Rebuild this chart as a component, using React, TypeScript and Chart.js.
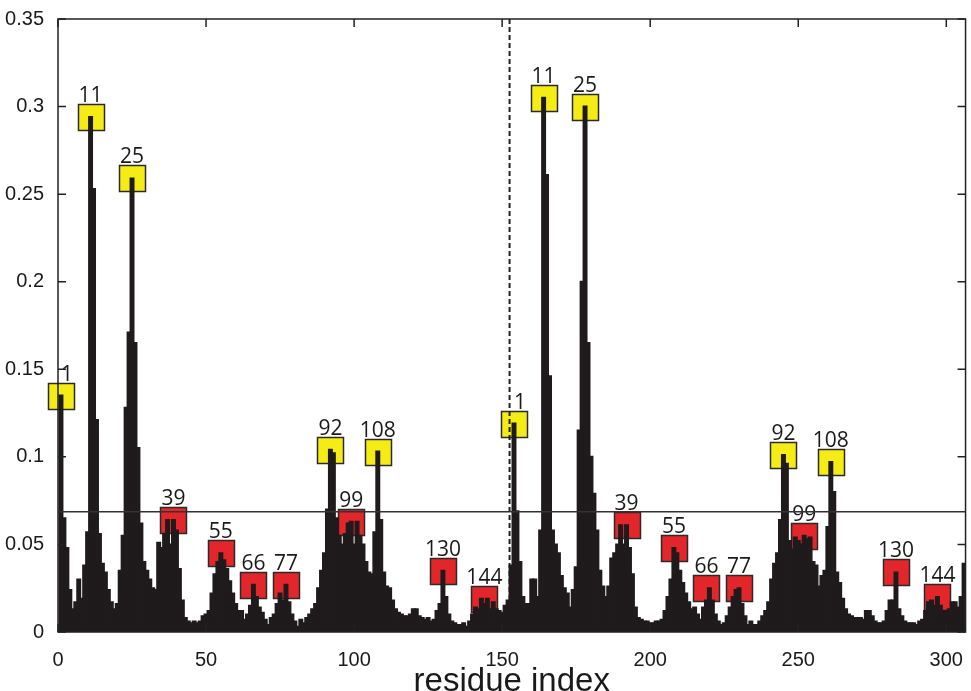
import React, { useEffect, useRef } from "react";
import { Chart, registerables } from "chart.js";

Chart.register(...registerables);

// residue 1..153 (first copy)
const chainA = [
  0.135, 0.065, 0.048, 0.024, 0.013, 0.017, 0.030, 0.019, 0.038, 0.057,
  0.294, 0.253, 0.121, 0.056, 0.039, 0.034, 0.024, 0.017, 0.013, 0.016,
  0.035, 0.055, 0.128, 0.171, 0.259, 0.165, 0.105, 0.062, 0.040, 0.035,
  0.030, 0.025, 0.024, 0.051, 0.048, 0.056, 0.064, 0.050, 0.064, 0.058,
  0.036, 0.018, 0.008, 0.006, 0.005, 0.006, 0.005, 0.006, 0.009, 0.010,
  0.012, 0.022, 0.033, 0.040, 0.045, 0.041, 0.036, 0.029, 0.022, 0.016,
  0.012, 0.012, 0.007, 0.010, 0.015, 0.027, 0.020, 0.014, 0.011, 0.007,
  0.004, 0.008, 0.010, 0.016, 0.022, 0.018, 0.027, 0.017, 0.010, 0.006,
  0.003, 0.007, 0.005, 0.008, 0.010, 0.013, 0.016, 0.025, 0.035, 0.045,
  0.070, 0.104, 0.102, 0.065, 0.055, 0.050, 0.056, 0.062, 0.063, 0.050,
  0.063, 0.055, 0.050, 0.040, 0.034, 0.033, 0.057, 0.103, 0.064, 0.034,
  0.026, 0.025, 0.018, 0.013, 0.011, 0.010, 0.009, 0.009, 0.010, 0.013,
  0.013, 0.009, 0.008, 0.007, 0.008, 0.006, 0.007, 0.012, 0.016, 0.035,
  0.020, 0.010, 0.006, 0.005, 0.004, 0.004, 0.005, 0.003, 0.006, 0.010,
  0.014, 0.013, 0.019, 0.016, 0.019, 0.013, 0.017, 0.013, 0.012, 0.011,
  0.015, 0.018, 0.038,
];

// residue 154..306 (second copy)
const chainB = [
  0.119, 0.069, 0.040, 0.020, 0.016, 0.016, 0.030, 0.030, 0.020, 0.058,
  0.305, 0.261, 0.146, 0.058, 0.050, 0.045, 0.032, 0.025, 0.022, 0.014,
  0.024, 0.037, 0.115, 0.200, 0.300, 0.165, 0.100, 0.079, 0.058, 0.035,
  0.026, 0.020, 0.026, 0.042, 0.045, 0.050, 0.061, 0.050, 0.061, 0.048,
  0.033, 0.014, 0.008, 0.007, 0.006, 0.006, 0.005, 0.005, 0.006, 0.006,
  0.007, 0.012, 0.020, 0.030, 0.048, 0.045, 0.035, 0.028, 0.022, 0.017,
  0.013, 0.014, 0.010, 0.007, 0.014, 0.018, 0.025, 0.018, 0.010, 0.006,
  0.004, 0.005, 0.009, 0.014, 0.020, 0.024, 0.025, 0.016, 0.009, 0.004,
  0.006, 0.004, 0.004, 0.006, 0.009, 0.012, 0.017, 0.030, 0.039, 0.045,
  0.064, 0.101, 0.096, 0.052, 0.047, 0.054, 0.052, 0.050, 0.055, 0.053,
  0.054, 0.040, 0.038, 0.026, 0.032, 0.035, 0.060, 0.097, 0.080, 0.034,
  0.028, 0.019, 0.013, 0.010, 0.009, 0.008, 0.008, 0.008, 0.007, 0.012,
  0.012, 0.009, 0.006, 0.005, 0.005, 0.006, 0.012, 0.018, 0.018, 0.034,
  0.013, 0.009, 0.006, 0.005, 0.005, 0.005, 0.004, 0.006, 0.007, 0.012,
  0.017, 0.018, 0.015, 0.020, 0.015, 0.012, 0.012, 0.013, 0.017, 0.017,
  0.014, 0.020, 0.039,
];

const values = [...chainA, ...chainB];
const residues = values.map((_, i) => i + 1);
const chainLength = chainA.length;

const labelResidues = [1, 11, 25, 39, 55, 66, 77, 92, 99, 108, 130, 144];
const labelKinds = ["hi", "hi", "hi", "lo", "lo", "lo", "lo", "hi", "lo", "hi", "lo", "lo"];

const xTicks = [0, 50, 100, 150, 200, 250, 300];
const xTickLabels = ["0", "50", "100", "150", "200", "250", "300"];
const yTicks = [0, 0.05, 0.1, 0.15, 0.2, 0.25, 0.3, 0.35];
const yTickLabels = ["0", "0.05", "0.1", "0.15", "0.2", "0.25", "0.3", "0.35"];

const threshold = 0.0687;
const chainDivider = 152.5;

const BAR = "#1f1b1c";
const INK = "#1a1a1a";
const YELLOW = "#f6ec15";
const RED = "#e3262a";

const annotate = {
  id: "annotate",
  beforeDatasetsDraw(chart: any) {
    const { ctx, chartArea, scales } = chart;
    const x = scales.x;
    const y = scales.y;
    ctx.save();
    const size = 26;
    for (let c = 0; c < 2; c++) {
      for (let k = 0; k < labelResidues.length; k++) {
        const r = labelResidues[k] + c * chainLength;
        const peak = Math.max(
          values[r - 2] ?? 0,
          values[r - 1] ?? 0,
          values[r] ?? 0
        );
        const cx = x.getPixelForValue(r);
        const cy = y.getPixelForValue(peak);
        const left = Math.round(cx - size / 2) + 0.5;
        const top = Math.round(cy - size / 2) + 0.5;
        ctx.fillStyle = labelKinds[k] === "hi" ? YELLOW : RED;
        ctx.fillRect(left, top, size, size);
        ctx.lineWidth = 1.5;
        ctx.strokeStyle = "#2a2a2a";
        ctx.strokeRect(left, top, size, size);
        ctx.fillStyle = INK;
        ctx.font = '21px "Open Sans", "Noto Sans", sans-serif';
        ctx.textAlign = "center";
        ctx.textBaseline = "alphabetic";
        const text = String(labelResidues[k]);
        const tx = text.length === 1 ? cx + 6 : cx;
        ctx.fillText(text, tx, top - 3);
      }
    }
    // dashed divider between the two copies
    const xd = x.getPixelForValue(chainDivider);
    ctx.beginPath();
    ctx.setLineDash([5, 3]);
    ctx.lineWidth = 2;
    ctx.strokeStyle = "#222";
    ctx.moveTo(xd, chartArea.top);
    ctx.lineTo(xd, chartArea.bottom);
    ctx.stroke();
    ctx.restore();
  },
  afterDatasetsDraw(chart: any) {
    const { ctx, chartArea, scales } = chart;
    const x = scales.x;
    const y = scales.y;
    const { left, right, top, bottom } = chartArea;
    ctx.save();
    const yt = y.getPixelForValue(threshold);
    ctx.beginPath();
    ctx.lineWidth = 1.5;
    ctx.strokeStyle = "#333";
    ctx.moveTo(left, yt);
    ctx.lineTo(right, yt);
    ctx.stroke();
    ctx.lineWidth = 1.5;
    ctx.strokeStyle = "#222";
    ctx.strokeRect(left, top, right - left, bottom - top);
    const tl = 8;
    ctx.beginPath();
    for (const v of xTicks) {
      const px = x.getPixelForValue(v);
      ctx.moveTo(px, bottom);
      ctx.lineTo(px, bottom - tl);
      ctx.moveTo(px, top);
      ctx.lineTo(px, top + tl);
    }
    for (const v of yTicks) {
      const py = y.getPixelForValue(v);
      ctx.moveTo(left, py);
      ctx.lineTo(left + tl, py);
      ctx.moveTo(right, py);
      ctx.lineTo(right - tl, py);
    }
    ctx.stroke();
    ctx.restore();
  },
};

export default function App() {
  const ref = useRef<HTMLCanvasElement | null>(null);

  useEffect(() => {
    if (!ref.current) return;
    const chart = new Chart(ref.current, {
      type: "bar",
      data: {
        datasets: [
          {
            data: residues.map((r, i) => ({ x: r, y: values[i] })),
            backgroundColor: BAR,
            borderWidth: 0,
            barPercentage: 1,
            categoryPercentage: 1,
            inflateAmount: 1,
          },
        ],
      },
      options: {
        responsive: false,
        animation: false,
        devicePixelRatio: 1,
        layout: { padding: { top: 19, right: 1, left: 0, bottom: 0 } },
        plugins: {
          legend: { display: false },
          tooltip: { enabled: false },
        },
        scales: {
          x: {
            type: "linear",
            min: 0,
            max: 306.5,
            offset: false,
            grid: { display: false },
            border: { display: false },
            afterBuildTicks: (s: any) => {
              s.ticks = xTicks.map((v) => ({ value: v }));
            },
            afterFit: (s: any) => {
              s.height = 59;
            },
            ticks: {
              autoSkip: false,
              maxRotation: 0,
              padding: 8,
              color: INK,
              font: { family: '"Liberation Sans", Arial, sans-serif', size: 20 },
              callback: (_v: any, i: number) => xTickLabels[i],
            },
            title: {
              display: true,
              text: "residue index",
              color: INK,
              font: { family: '"Liberation Sans", Arial, sans-serif', size: 33, lineHeight: 1 },
              padding: { top: 0, bottom: -7 },
            },
          },
          y: {
            min: 0,
            max: 0.35,
            grid: { display: false },
            border: { display: false },
            afterBuildTicks: (s: any) => {
              s.ticks = yTicks.map((v) => ({ value: v }));
            },
            afterFit: (s: any) => {
              s.width = 58;
            },
            ticks: {
              padding: 6,
              color: INK,
              font: { family: '"Liberation Sans", Arial, sans-serif', size: 20 },
              callback: (_v: any, i: number) => yTickLabels[i],
            },
          },
        },
      },
      plugins: [annotate],
    });
    return () => chart.destroy();
  }, []);

  return (
    <div style={{ position: "absolute", left: 0, top: 0, width: 971, height: 691, background: "#fff" }}>
      <canvas ref={ref} width={971} height={691} />
    </div>
  );
}
